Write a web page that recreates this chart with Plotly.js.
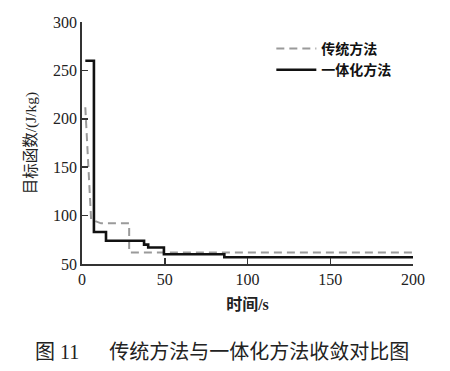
<!DOCTYPE html>
<html>
<head>
<meta charset="utf-8">
<script src="https://cdn.plot.ly/plotly-3.0.1.min.js"></script>
<style>html,body{margin:0;padding:0;background:#fff;}#chart{width:450px;height:371px;}</style>
</head>
<body>
<div id="chart"></div>
<script>
// Data
const seriesNames = ["传统方法", "一体化方法"];
const traditionalX = [2, 5.5, 11.5, 28.5, 28.5, 200];
const traditionalY = [212, 96, 92, 92, 62, 62];
const integratedX = [2, 7.2, 14.5, 37.5, 40, 49.5, 86, 200];
const integratedY = [260, 83, 74, 70, 67, 60, 57, 57];
const xTicks = [0, 50, 100, 150, 200];
const yTicks = [50, 100, 150, 200, 250, 300];
const xTitle = "时间/s";
const yTitle = "目标函数/(J/kg)";
const caption = "图 11\u3000\u2002传统方法与一体化方法收敛对比图";

const traces = [
  {x: traditionalX, y: traditionalY, name: seriesNames[0], mode: "lines",
   line: {color: "#9a9a9a", width: 2, dash: "8px,5px", shape: "linear"}},
  {x: integratedX, y: integratedY, name: seriesNames[1], mode: "lines",
   line: {color: "#111", width: 2.6, shape: "hv"}}
];

const serifCJK = "Liberation Serif, Noto Sans CJK SC";
const tickFont = {family: "Liberation Serif", size: 16, color: "#222"};
const layout = {
  width: 450, height: 371,
  margin: {l: 82, r: 37, t: 22, b: 107},
  paper_bgcolor: "#fff", plot_bgcolor: "#fff",
  showlegend: true,
  legend: {x: 0.572, y: 0.955, xanchor: "left", yanchor: "top",
           font: {family: "Noto Sans CJK SC", size: 14, color: "#111", weight: "bold"},
           bgcolor: "rgba(0,0,0,0)", tracegroupgap: 0, itemwidth: 40},
  xaxis: {range: [0, 200], tickvals: xTicks, ticktext: xTicks.map(String),
          showgrid: false, zeroline: false, showline: true, linecolor: "#333", linewidth: 1.8,
          ticks: "inside", ticklen: 6, tickwidth: 1.5, tickcolor: "#333", tickfont: tickFont,
          title: {text: xTitle, font: {family: serifCJK, size: 16, color: "#222", weight: "bold"}, standoff: 12}},
  yaxis: {range: [50, 300], tickvals: yTicks, ticktext: yTicks.map(String),
          showgrid: false, zeroline: false, showline: true, linecolor: "#333", linewidth: 1.8,
          ticks: "inside", ticklen: 6, tickwidth: 1.5, tickcolor: "#333", tickfont: tickFont,
          title: {text: yTitle, font: {family: serifCJK, size: 15.5, color: "#222"}, standoff: 12}},
  annotations: [{text: caption, xref: "paper", yref: "paper", x: 0.424, y: -0.364,
                 xanchor: "center", yanchor: "middle", showarrow: false,
                 font: {family: serifCJK, size: 20, color: "#222"}}]
};
Plotly.newPlot("chart", traces, layout, {displayModeBar: false, staticPlot: true});
</script>
</body>
</html>
